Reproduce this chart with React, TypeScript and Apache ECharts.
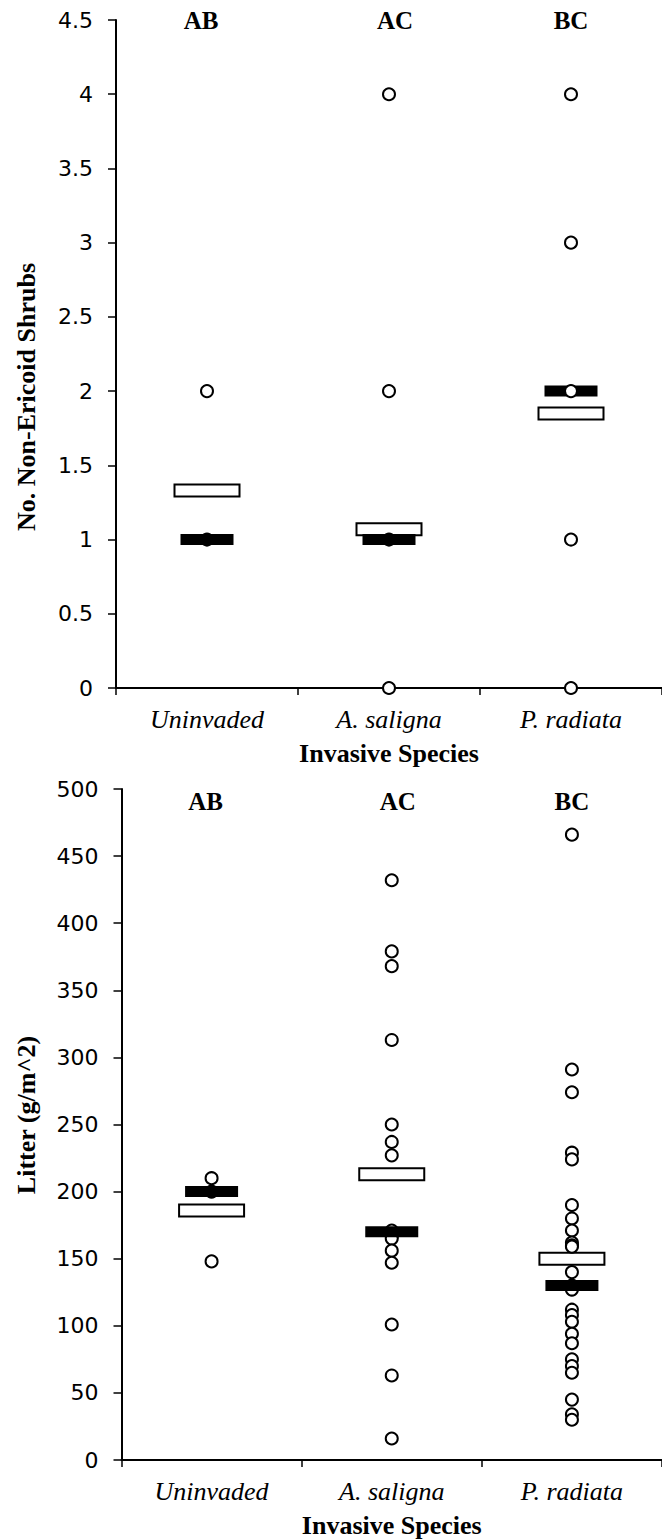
import React, { useEffect, useRef } from "react";
import * as echarts from "echarts";

const categories = ["Uninvaded", "A. saligna", "P. radiata"];

// Top chart: number of non-ericoid shrubs
const shrubPoints = [
  [2, 1],
  [4, 2, 1, 0],
  [4, 3, 2, 1, 0],
];
const shrubMeans = [1.33, 1.07, 1.85];
const shrubMedians = [1, 1, 2];
const shrubLetters = ["AB", "AC", "BC"];
const shrubLetterLevel = 4.5;

// Bottom chart: litter (g/m^2)
const litterPoints = [
  [210, 200, 148],
  [432, 379, 368, 313, 250, 237, 227, 171, 167, 165, 156, 147, 101, 63, 16],
  [466, 291, 274, 229, 224, 190, 180, 171, 162, 160, 159, 140, 130, 127, 112, 108, 103, 94, 87, 75, 70, 65, 45, 34, 30],
];
const litterMeans = [186, 213, 150];
const litterMedians = [200, 170, 130];
const litterLetters = ["AB", "AC", "BC"];
const litterLetterLevel = 491;

const LETTER_DX = [-6, 6, 0];
const MEAN_W = 65;
const MEAN_H = 12;

const SERIF = "'Liberation Serif', 'Times New Roman', serif";
const SANS = "'DejaVu Sans', sans-serif";

function buildSeries(
  gridIdx: number,
  points: number[][],
  means: number[],
  medians: number[],
  letters: string[],
  letterLevel: number,
  topPointsOverIdx: number | null
) {
  const series: any[] = [];
  series.push({
    type: "custom",
    xAxisIndex: gridIdx,
    yAxisIndex: gridIdx,
    encode: { x: 0, y: 1 },
    z: 2,
    clip: false,
    renderItem: (_params: any, api: any) => {
      const p = api.coord([api.value(0), api.value(1)]);
      return {
        type: "rect",
        shape: { x: p[0] - MEAN_W / 2, y: p[1] - MEAN_H / 2, width: MEAN_W, height: MEAN_H },
        style: { fill: "#fff", stroke: "#000", lineWidth: 2 },
      };
    },
    data: means.map((v, i) => [i, v]),
  });
  points.forEach((arr, ci) => {
    series.push({
      type: "scatter",
      xAxisIndex: gridIdx,
      yAxisIndex: gridIdx,
      symbol: "circle",
      symbolSize: 12,
      itemStyle: { color: "#fff", borderColor: "#000", borderWidth: 2, opacity: 1 },
      emphasis: { disabled: true },
      z: topPointsOverIdx === ci ? 5 : 3,
      data: arr.map((v) => [ci, v]),
    });
  });
  series.push({
    type: "scatter",
    xAxisIndex: gridIdx,
    yAxisIndex: gridIdx,
    symbol: "rect",
    symbolSize: [53, 11],
    itemStyle: { color: "#000", opacity: 1 },
    emphasis: { disabled: true },
    z: 4,
    data: medians.map((v, i) => [i, v]),
  });
  series.push({
    type: "scatter",
    xAxisIndex: gridIdx,
    yAxisIndex: gridIdx,
    symbol: "circle",
    symbolSize: 1,
    itemStyle: { color: "rgba(0,0,0,0)", opacity: 1 },
    emphasis: { disabled: true },
    z: 6,
    data: letters.map((t, i) => ({
      value: [i, letterLevel],
      name: t,
      label: { offset: [LETTER_DX[i], 0] },
    })),
    label: {
      show: true,
      position: "inside",
      formatter: (p: any) => p.name,
      fontFamily: SERIF,
      fontWeight: "bold",
      fontSize: 25,
      color: "#000",
      opacity: 1,
    },
  });
  return series;
}

function makeXAxis(gridIndex: number) {
  return {
    type: "category",
    gridIndex,
    data: categories,
    boundaryGap: true,
    axisLine: { show: true, lineStyle: { color: "#000", width: 2 } },
    axisTick: { show: true, length: 7, inside: false, lineStyle: { color: "#000", width: 1.5 } },
    axisLabel: {
      margin: 18,
      fontFamily: SERIF,
      fontStyle: "italic",
      fontSize: 26,
      color: "#000",
    },
    splitLine: { show: false },
    name: "Invasive Species",
    nameLocation: "middle",
    nameGap: 52,
    nameTextStyle: { fontFamily: SERIF, fontWeight: "bold", fontSize: 26, color: "#000" },
  };
}

function makeYAxis(gridIndex: number, max: number, interval: number) {
  return {
    type: "value",
    gridIndex,
    min: 0,
    max,
    interval,
    axisLine: { show: true, lineStyle: { color: "#000", width: 2 } },
    axisTick: { show: true, length: 8, inside: false, lineStyle: { color: "#000", width: 1.5 } },
    axisLabel: { margin: 23, fontFamily: SANS, fontSize: 22, color: "#000" },
    splitLine: { show: false },
  };
}

export default function App() {
  const ref = useRef<HTMLDivElement>(null);
  useEffect(() => {
    if (!ref.current) return;
    const chart = echarts.init(ref.current, undefined, { renderer: "svg" });
    const option: any = {
      animation: false,
      backgroundColor: "#fff",
      grid: [
        { left: 116, top: 20, width: 552, height: 668 },
        { left: 121.5, top: 789, width: 546, height: 671 },
      ],
      xAxis: [makeXAxis(0), makeXAxis(1)],
      yAxis: [makeYAxis(0, 4.5, 0.5), makeYAxis(1, 500, 50)],
      graphic: [
        {
          type: "text",
          x: 26,
          y: 397,
          rotation: Math.PI / 2,
          style: {
            text: "No. Non-Ericoid Shrubs",
            fontFamily: SERIF,
            fontWeight: "bold",
            fontSize: 26,
            fill: "#000",
            align: "center",
            verticalAlign: "middle",
          },
        },
        {
          type: "text",
          x: 26,
          y: 1115,
          rotation: Math.PI / 2,
          style: {
            text: "Litter (g/m^2)",
            fontFamily: SERIF,
            fontWeight: "bold",
            fontSize: 26,
            fill: "#000",
            align: "center",
            verticalAlign: "middle",
          },
        },
      ],
      series: [
        ...buildSeries(0, shrubPoints, shrubMeans, shrubMedians, shrubLetters, shrubLetterLevel, 2),
        ...buildSeries(1, litterPoints, litterMeans, litterMedians, litterLetters, litterLetterLevel, null),
      ],
    };
    chart.setOption(option);
    return () => chart.dispose();
  }, []);
  return (
    <div
      ref={ref}
      style={{ position: "absolute", left: 0, top: 0, width: 662, height: 1539, background: "#fff" }}
    />
  );
}
